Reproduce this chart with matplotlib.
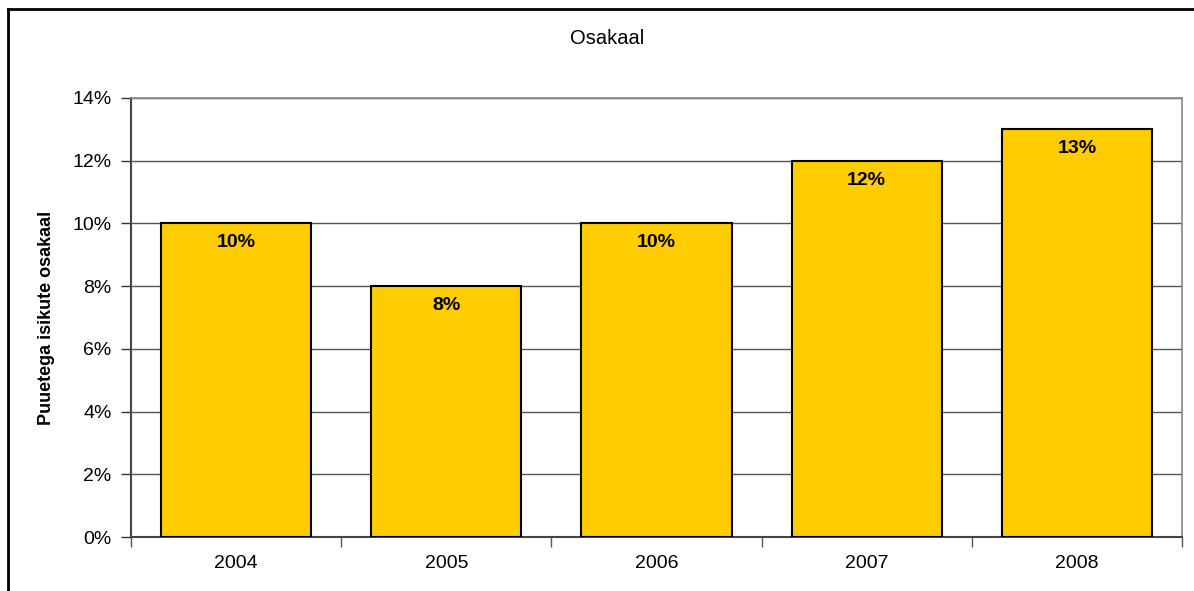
import matplotlib
matplotlib.use("Agg")
import matplotlib.pyplot as plt
from matplotlib.ticker import FuncFormatter, MultipleLocator
from matplotlib.lines import Line2D

years = ["2004", "2005", "2006", "2007", "2008"]
values = [10, 8, 10, 12, 13]
title = "Osakaal"
ylabel = "Puuetega isikute osakaal"

plt.rcParams['font.family'] = ['Liberation Sans', 'DejaVu Sans']

fig = plt.figure(figsize=(11.94, 5.91), dpi=100)
ax = fig.add_axes([131/1194, 1-537/591, (1182-131)/1194, (537-98)/591])

x = list(range(len(years)))
bars = ax.bar(x, values, width=0.714, color='#FFCC00', edgecolor='black', linewidth=1.5, zorder=3)
for xi, v in zip(x, values):
    ax.annotate(f"{v}%", (xi, v), xytext=(0, -14), textcoords='offset points',
                ha='center', va='center', fontsize=14, fontweight='bold', zorder=4)

ax.set_xlim(-0.5, len(years) - 0.5)
ax.set_ylim(0, 14)
ax.yaxis.set_major_locator(MultipleLocator(2))
ax.yaxis.set_major_formatter(FuncFormatter(lambda v, p: f"{v:.0f}%"))
ax.grid(axis='y', color='#555555', linewidth=1.0, zorder=0)
ax.set_axisbelow(True)

ax.set_xticks(x)
ax.set_xticklabels(years, fontsize=14)
ax.tick_params(axis='x', length=0, pad=13)
# category boundary ticks
ax.set_xticks([i - 0.5 for i in range(len(years) + 1)], minor=True)
ax.tick_params(axis='x', which='minor', length=7, width=1, color='#555555', direction='out')
ax.tick_params(axis='y', length=7, width=1, color='#333333', labelsize=14, pad=7)

for s in ['top', 'right']:
    ax.spines[s].set_color('#888888')
    ax.spines[s].set_linewidth(1.2)
ax.spines['left'].set_color('#444444')
ax.spines['left'].set_linewidth(1.5)
ax.spines['bottom'].set_color('#444444')
ax.spines['bottom'].set_linewidth(1.5)

ax.set_ylabel(ylabel, fontsize=13, fontweight='bold')
ax.yaxis.set_label_coords((55 - 131) / (1182 - 131), 0.5)
fig.text(607/1194, 1-38/591, title, ha='center', va='center', fontsize=14.5)

# outer frame (left and top)
fig.add_artist(Line2D([8/1194, 8/1194], [0, 1-9/591], color='black', linewidth=2, transform=fig.transFigure))
fig.add_artist(Line2D([8/1194, 1], [1-9/591, 1-9/591], color='black', linewidth=2, transform=fig.transFigure))

fig.savefig("out.png", dpi=100)
